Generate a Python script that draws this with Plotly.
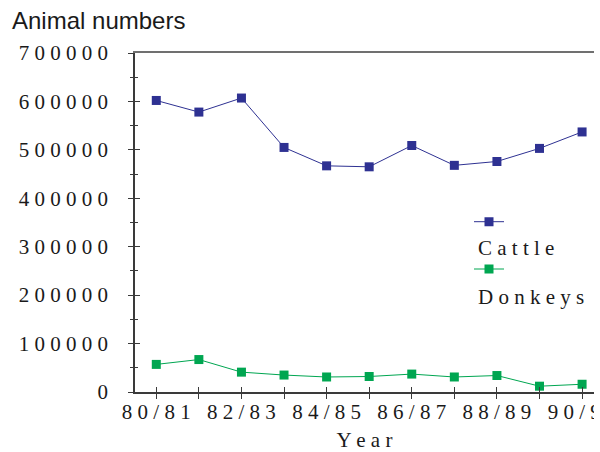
import plotly.graph_objects as go

# ---- data ----
years = ["80/81", "81/82", "82/83", "83/84", "84/85", "85/86",
         "86/87", "87/88", "88/89", "89/90", "90/91"]
cattle = [602000, 578000, 607000, 505000, 467000, 465000,
          509000, 468000, 476000, 503000, 537000]
donkeys = [57000, 67000, 41000, 35000, 31000, 32000,
           37000, 31000, 34000, 12000, 16000]
y_tick_values = [0, 100000, 200000, 300000, 400000, 500000, 600000, 700000]
series_names = ["Cattle", "Donkeys"]
series_colors = ["#2E3192", "#00A651"]
chart_title = "Animal numbers"
x_title = "Year"


def spaced(s):
    return " ".join(str(s))


W, H = 594, 452
ML, MR, MT, MB = 135, 0, 53, 60
SERIF = "Liberation Serif, Times New Roman, serif"
SANS = "Liberation Sans, Arial, sans-serif"
AX = "#3a3a3a"
TXT = "#1a1a1a"

plot_w = W - ML - MR
plot_h = H - MT - MB

x_idx = list(range(len(years)))
x_ticktext = [spaced(y) if i % 2 == 0 else "" for i, y in enumerate(years)]

fig = go.Figure()
for name, vals, col, lg in zip(series_names, [cattle, donkeys], series_colors,
                               ["legend", "legend2"]):
    fig.add_trace(go.Scatter(
        x=x_idx, y=vals, name=name, mode="lines+markers",
        line=dict(color=col, width=1),
        marker=dict(symbol="square", size=9, color=col),
        legend=lg,
    ))
# invisible helper traces for the overlay axes (inner ticks, top frame line)
fig.add_trace(go.Scatter(x=x_idx, y=cattle, xaxis="x2", yaxis="y2",
                         mode="markers", marker=dict(opacity=0),
                         showlegend=False, hoverinfo="skip"))
fig.add_trace(go.Scatter(x=x_idx, y=cattle, xaxis="x3", yaxis="y",
                         mode="markers", marker=dict(opacity=0),
                         showlegend=False, hoverinfo="skip"))

xr = [-0.5, 10.28]
legend_common = dict(xref="paper", yref="paper", xanchor="left",
                     yanchor="middle", itemwidth=30,
                     bgcolor="rgba(0,0,0,0)",
                     font=dict(size=10, color="rgba(0,0,0,0)"))
fig.update_layout(
    width=W, height=H,
    margin=dict(l=ML, r=MR, t=MT, b=MB, autoexpand=False),
    paper_bgcolor="white", plot_bgcolor="white",
    title=dict(text=chart_title, font=dict(family=SANS, size=24, color=TXT),
               xref="container", yref="container", x=12 / W, xanchor="left",
               y=1 - 21 / H, yanchor="middle"),
    xaxis=dict(range=xr, tickmode="array", tickvals=x_idx, ticktext=x_ticktext,
               tickangle=0, ticklabeloverflow="allow", ticklabelstandoff=-5,
               ticks="outside", ticklen=5, tickwidth=1.2, tickcolor=AX,
               showline=True, linecolor=AX, linewidth=1.5,
               showgrid=False, zeroline=False,
               tickfont=dict(family=SERIF, size=21, color=TXT),
               title=dict(text=spaced(x_title),
                          font=dict(family=SERIF, size=21, color=TXT),
                          standoff=10)),
    yaxis=dict(range=[0, 700000], tickmode="array", tickvals=y_tick_values,
               ticktext=[spaced(v) for v in y_tick_values],
               ticks="outside", ticklen=5, tickwidth=1.2, tickcolor=AX,
               minor=dict(ticks="outside", ticklen=3, dtick=50000,
                          tickcolor=AX, tickwidth=1.2, showgrid=False),
               showline=True, linecolor=AX, linewidth=1.5,
               showgrid=False, zeroline=False, ticklabelstandoff=16,
               tickfont=dict(family=SERIF, size=21, color=TXT)),
    xaxis2=dict(overlaying="x", matches="x", anchor="y2", side="bottom",
                ticks="inside", ticklen=5, tickwidth=1.2, tickcolor=AX,
                tickmode="array", tickvals=x_idx, showticklabels=False,
                showline=False, showgrid=False, zeroline=False),
    xaxis3=dict(overlaying="x", matches="x", anchor="y", side="top",
                ticks="", showticklabels=False,
                showline=True, linecolor="#707070", linewidth=2,
                showgrid=False, zeroline=False),
    yaxis2=dict(overlaying="y", matches="y", anchor="x2", side="left",
                ticks="inside", ticklen=5, tickwidth=1.2, tickcolor=AX,
                tickmode="array", tickvals=y_tick_values, showticklabels=False,
                minor=dict(ticks="inside", ticklen=3, dtick=50000,
                           tickcolor=AX, tickwidth=1.2, showgrid=False),
                showline=False, showgrid=False, zeroline=False),
    legend=dict(legend_common, x=(469 - ML) / plot_w,
                y=(H - MB - 221.7) / plot_h),
    legend2=dict(legend_common, x=(469 - ML) / plot_w,
                 y=(H - MB - 269) / plot_h),
    showlegend=True,
)

for name, ypix in zip(series_names, [248, 297]):
    fig.add_annotation(text=spaced(name), xref="paper", yref="paper",
                       x=(476 - ML) / plot_w, xanchor="left",
                       y=(H - MB - ypix) / plot_h, yanchor="middle",
                       showarrow=False,
                       font=dict(family=SERIF, size=21, color=TXT))

fig.write_html("out.html",
               config={"displayModeBar": False},
               post_script="document.body.style.margin='0';"
                           "document.body.style.overflow='hidden';")
